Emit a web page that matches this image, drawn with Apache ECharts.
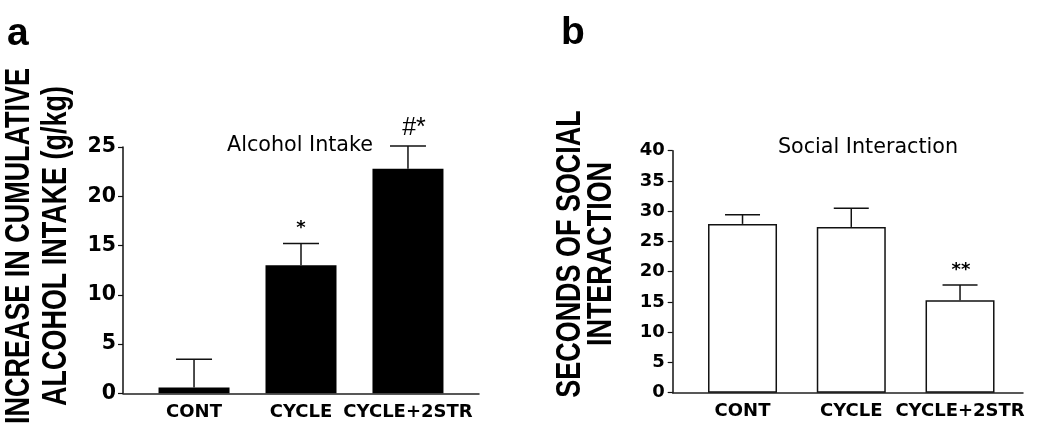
<!DOCTYPE html>
<html>
<head>
<meta charset="utf-8">
<script src="https://cdn.jsdelivr.net/npm/echarts@6/dist/echarts.min.js"></script>
<style>
  html, body { margin: 0; padding: 0; background: #fff; }
  #chart { width: 1050px; height: 437px; }
</style>
</head>
<body>
<div id="chart"></div>
<script>
// ---- data ----
const categories = ['CONT', 'CYCLE', 'CYCLE+2STR'];
const alcoholMean = [0.6, 13.0, 22.8];
const alcoholErr = [2.85, 2.2, 2.3];
const alcoholMarks = ['', '*', '#*'];
const socialMean = [27.9, 27.4, 15.3];
const socialErr = [1.5, 3.1, 2.5];
const socialMarks = ['', '', '**'];
const alcoholTitle = 'Alcohol Intake';
const socialTitle = 'Social Interaction';
const alcoholYName = ['INCREASE IN CUMULATIVE', 'ALCOHOL INTAKE (g/kg)'];
const socialYName = ['SECONDS OF SOCIAL', 'INTERACTION'];

// ---- chart ----
const chart = echarts.init(document.getElementById('chart'), null, { renderer: 'canvas' });
const catIdx = categories.map((c, i) => i);

function errRender(means, errs, marks, capHalf, markFonts) {
  return function (params, api) {
    const i = params.dataIndex;
    const x = api.value(0);
    const base = api.coord([x, means[i]]);
    const top = api.coord([x, means[i] + errs[i]]);
    const children = [
      { type: 'line', shape: { x1: base[0], y1: base[1], x2: top[0], y2: top[1] },
        style: { stroke: '#111', lineWidth: 1.5 } },
      { type: 'line', shape: { x1: top[0] - capHalf, y1: top[1], x2: top[0] + capHalf, y2: top[1] },
        style: { stroke: '#111', lineWidth: 1.5 } }
    ];
    if (marks[i]) {
      const f = markFonts[marks[i]];
      children.push({ type: 'text', x: top[0] + f.dx, y: top[1] - f.dy,
        style: { text: marks[i], fill: '#000', font: f.font, align: 'center', verticalAlign: 'middle' } });
    }
    return { type: 'group', children };
  };
}

const markFonts = {
  '*': { font: 'bold 18px "DejaVu Sans"', dy: 15, dx: 0 },
  '**': { font: 'bold 18px "DejaVu Sans"', dy: 15, dx: 1 },
  '#*': { font: '25px "Liberation Sans"', dy: 18, dx: 6 }
};

function xAxisCfg(gridIndex, min, max) {
  return {
    type: 'value', gridIndex, min, max,
    axisLine: { show: true, onZero: false, lineStyle: { color: '#222', width: 1.5 } },
    axisTick: { show: false },
    splitLine: { show: false },
    axisLabel: {
      customValues: catIdx,
      formatter: v => categories[Math.round(v)] || '',
      color: '#000', fontFamily: 'DejaVu Sans', fontWeight: 'bold', fontSize: 18, margin: 10
    }
  };
}
function yAxisCfg(gridIndex, max, fontSize, padTop, margin) {
  return {
    type: 'value', gridIndex, min: 0, max, interval: 5,
    axisLine: { show: true, onZero: false, lineStyle: { color: '#111', width: 1.5 } },
    axisTick: { show: true, length: 5, lineStyle: { color: '#111', width: 1.2 } },
    splitLine: { show: false },
    axisLabel: { color: '#000', fontFamily: 'DejaVu Sans', fontWeight: 'bold', fontSize, margin,
      padding: [padTop, 0, 0, 0] }
  };
}

const yTitleFont = 'bold 35px "Liberation Sans", Arial, sans-serif';

const option = {
  animation: false,
  backgroundColor: '#fff',
  grid: [
    { left: 123, right: 1050 - 479, top: 147, bottom: 437 - 393.3 },
    { left: 672.7, right: 1050 - 1023, top: 150.7, bottom: 437 - 392.7 }
  ],
  xAxis: [xAxisCfg(0, -0.664, 2.664), xAxisCfg(1, -0.642, 2.579)],
  yAxis: [yAxisCfg(0, 25, 20.5, 11, 7), yAxisCfg(1, 40, 18, 8, 8)],
  graphic: [
    { type: 'text', x: 7, y: 34, style: { text: 'a', font: 'bold 39px "Liberation Sans", Arial', fill: '#000', align: 'left', verticalAlign: 'middle' } },
    { type: 'text', x: 561, y: 33, style: { text: 'b', font: 'bold 39px "Liberation Sans", Arial', fill: '#000', align: 'left', verticalAlign: 'middle' } },
    { type: 'text', x: 300, y: 146, style: { text: alcoholTitle, font: '20.7px "DejaVu Sans"', fill: '#000', align: 'center', verticalAlign: 'middle' } },
    { type: 'text', x: 868, y: 148, style: { text: socialTitle, font: '20.7px "DejaVu Sans"', fill: '#000', align: 'center', verticalAlign: 'middle' } },
    { type: 'text', x: 37.5, y: 246, rotation: Math.PI / 2, scaleX: 0.77,
      style: { text: alcoholYName.join('\n'), font: yTitleFont, lineHeight: 37, fill: '#000', align: 'center', verticalAlign: 'middle' } },
    { type: 'text', x: 586, y: 254, rotation: Math.PI / 2, scaleX: 0.77,
      style: { text: socialYName.join('\n'), font: yTitleFont, lineHeight: 31, fill: '#000', align: 'center', verticalAlign: 'middle' } }
  ],
  series: [
    { type: 'bar', xAxisIndex: 0, yAxisIndex: 0, barWidth: 71,
      data: alcoholMean.map((v, i) => [i, v]),
      itemStyle: { color: '#000' } },
    { type: 'custom', xAxisIndex: 0, yAxisIndex: 0, clip: false, z: 3,
      data: alcoholMean.map((v, i) => [i, v + alcoholErr[i]]),
      renderItem: errRender(alcoholMean, alcoholErr, alcoholMarks, 18, markFonts) },
    { type: 'bar', xAxisIndex: 1, yAxisIndex: 1, barWidth: 69,
      data: socialMean.map((v, i) => [i, v]),
      itemStyle: { color: '#fff', borderColor: '#111', borderWidth: 1.5 } },
    { type: 'custom', xAxisIndex: 1, yAxisIndex: 1, clip: false, z: 3,
      data: socialMean.map((v, i) => [i, v + socialErr[i]]),
      renderItem: errRender(socialMean, socialErr, socialMarks, 17.5, markFonts) }
  ]
};
chart.setOption(option);
</script>
</body>
</html>
